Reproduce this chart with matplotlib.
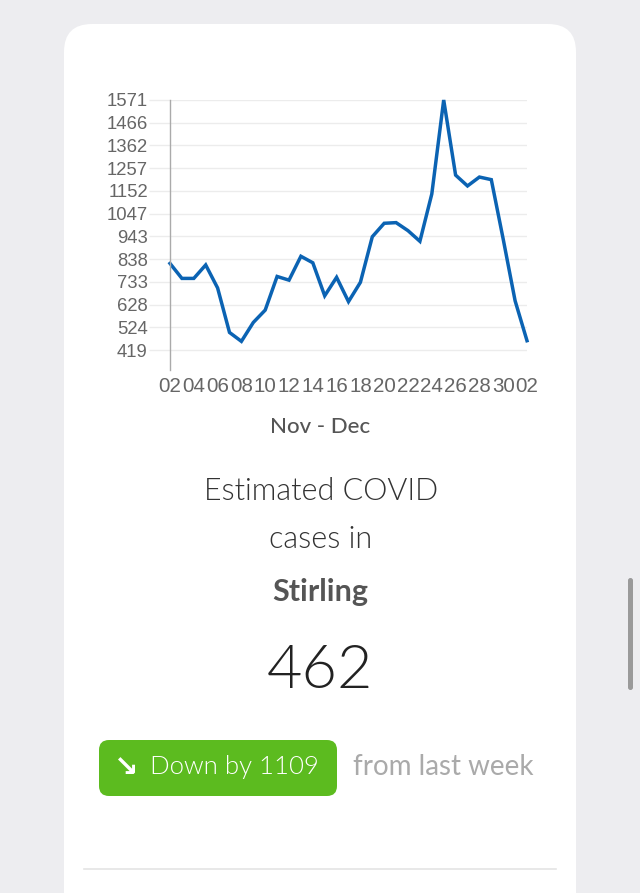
import matplotlib.pyplot as plt
from matplotlib.patches import FancyBboxPatch

# Daily estimated cases, 2 Nov - 2 Dec
day_labels = ["02", "03", "04", "05", "06", "07", "08", "09", "10", "11",
              "12", "13", "14", "15", "16", "17", "18", "19", "20", "21",
              "22", "23", "24", "25", "26", "27", "28", "29", "30", "01", "02"]
cases = [818, 749, 749, 811, 705, 500, 459, 546, 603, 758,
         741, 851, 821, 669, 754, 642, 731, 941, 1003, 1006,
         969, 920, 1138, 1571, 1225, 1175, 1216, 1204, 930, 646, 462]
y_ticks = [419, 524, 628, 733, 838, 943, 1047, 1152, 1257, 1362, 1466, 1571]

place = "Stirling"
current = 462
change = 1109

W, H = 640, 893
fig = plt.figure(figsize=(W / 100, H / 100), dpi=100)
fig.patch.set_facecolor("#ededf0")

# overlay in pixel coords for the card and texts
bg = fig.add_axes([0, 0, 1, 1], zorder=0)
bg.set_xlim(0, W)
bg.set_ylim(H, 0)
bg.axis("off")

card = FancyBboxPatch((64, 24), 512, 950, boxstyle="round,pad=0,rounding_size=28",
                      facecolor="white", edgecolor="none")
bg.add_patch(card)
# scrollbar
bg.add_patch(FancyBboxPatch((628, 578), 5, 112, boxstyle="round,pad=0,rounding_size=2.5",
                            facecolor="#9a9a9a", edgecolor="none"))

txt_font = ["Lato", "DejaVu Sans"]
bg.text(320, 427, "Nov - Dec", ha="center", va="center", fontsize=16,
        color="#555555", family=txt_font, fontweight="medium")
bg.text(321, 492, "Estimated COVID", ha="center", va="center", fontsize=22,
        color="#333333", family=txt_font, fontweight=300)
bg.text(321, 540, "cases in", ha="center", va="center", fontsize=22,
        color="#333333", family=txt_font, fontweight=300)
bg.text(320, 592, place, ha="center", va="center", fontsize=22,
        color="#555555", family=txt_font, fontweight="bold")
bg.text(320, 672, str(current), ha="center", va="center", fontsize=44,
        color="#222222", family=txt_font, fontweight=300)

bg.add_patch(FancyBboxPatch((99, 740), 238, 56, boxstyle="round,pad=0,rounding_size=10",
                            facecolor="#5cbb1f", edgecolor="none"))
bg.text(126, 768, "\u2198", ha="center", va="center", fontsize=21,
        color="white", family=["DejaVu Sans"], fontweight="bold")
bg.text(150, 767, f"Down by {change}", ha="left", va="center", fontsize=18.5,
        color="white", family=txt_font, fontweight=300)
bg.text(353, 767, "from last week", ha="left", va="center", fontsize=20,
        color="#aaaaaa", family=txt_font)
bg.plot([84, 556], [869, 869], color="#e4e4e4", lw=1.2)

# the chart
ax = fig.add_axes([170 / W, 1 - 370 / H, 357 / W, 270 / H], zorder=1)
ax.patch.set_alpha(0)
x = list(range(len(cases)))
ax.plot(x, cases, color="#0b63b3", lw=2.5, clip_on=False, solid_joinstyle="miter")
ax.set_xlim(0, len(cases) - 1)
ax.set_ylim(327, 1571)

ax.set_yticks(y_ticks)
ax.set_yticklabels([str(v) for v in y_ticks])
ax.set_xticks(x[::2])
ax.set_xticklabels(day_labels[::2])
ax.grid(axis="y", color="#ececec", lw=1)
ax.set_axisbelow(True)
for s in ["top", "right", "bottom"]:
    ax.spines[s].set_visible(False)
ax.spines["left"].set_color("#aaaaaa")
ax.spines["left"].set_linewidth(1)
ax.tick_params(axis="y", length=15, width=1, color="#ececec", pad=1,
               labelsize=13.3, labelcolor="#666666")
ax.tick_params(axis="x", length=0, pad=5, labelsize=14.8, labelcolor="#666666")
for lab in ax.get_xticklabels() + ax.get_yticklabels():
    lab.set_family(["Liberation Sans", "DejaVu Sans"])

fig.savefig("out.png", dpi=100, facecolor=fig.get_facecolor())
